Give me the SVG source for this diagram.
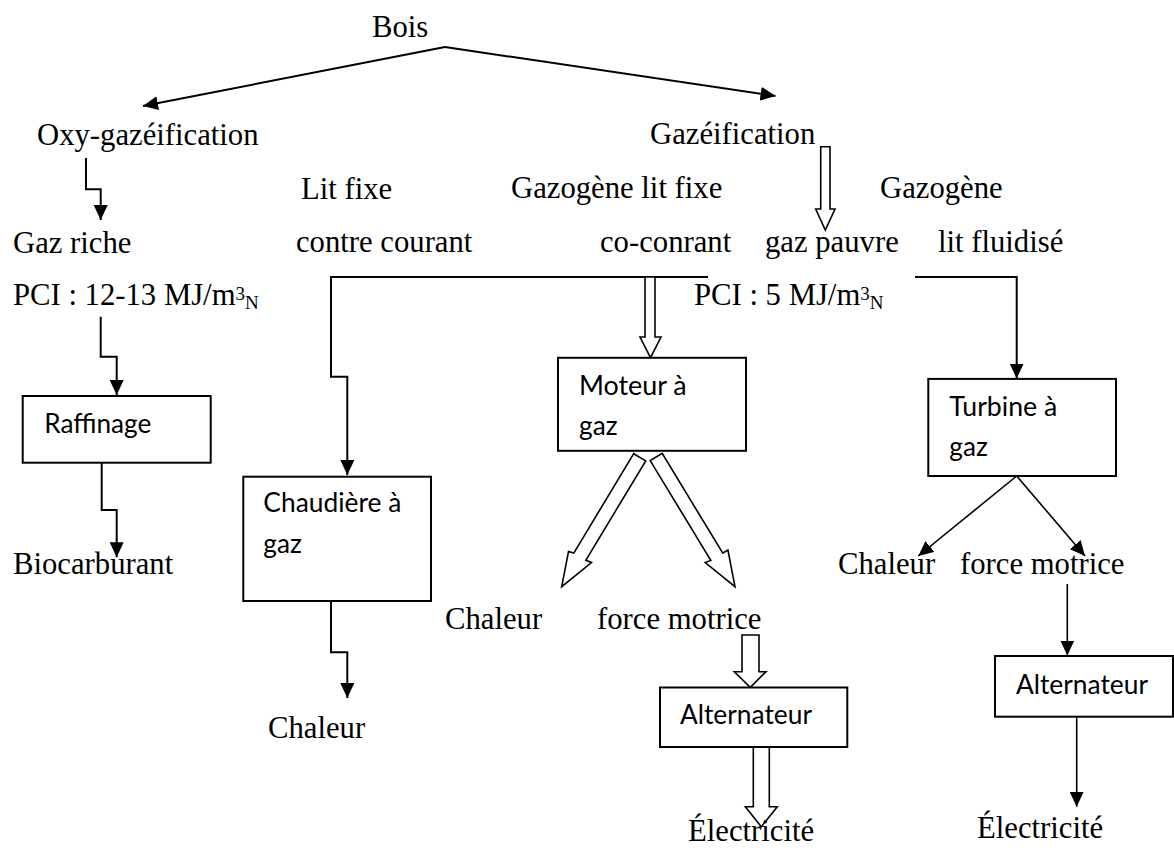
<svg xmlns="http://www.w3.org/2000/svg" width="1174" height="850" viewBox="0 0 1174 850">
<style>
.t{font-family:"Liberation Serif","Times New Roman",serif;font-size:30.7px;fill:#000}
.s{font-family:Lato,"Liberation Sans",sans-serif;font-size:27px;fill:#000}
.box{fill:#fff;stroke:#000;stroke-width:2}
.ln{fill:none;stroke:#000;stroke-width:2}
.thin{fill:none;stroke:#000;stroke-width:1.6}
.hol{fill:#fff;stroke:#000;stroke-width:1.6;stroke-linejoin:miter}
</style>
<defs>
<marker id="ah" markerWidth="16" markerHeight="14" refX="15" refY="7" orient="auto" markerUnits="userSpaceOnUse">
<path d="M0,0 L15,7 L0,14 z" fill="#000"/>
</marker>
</defs>
<rect width="1174" height="850" fill="#fff"/>

<g id="connectors">
<path class="ln" d="M445,47 L143,106" marker-end="url(#ah)"/>
<path class="ln" d="M445,47 L775.5,96" marker-end="url(#ah)"/>
<path class="ln" d="M86,158 V189.3 H100.7 V220" marker-end="url(#ah)"/>
<path class="ln" d="M100.7,316.7 V356.7 H116.7 V395" marker-end="url(#ah)"/>
<path class="ln" d="M101.7,462.7 V510 H116.7 V557.3" marker-end="url(#ah)"/>
<path class="ln" d="M708,277 H331 V376.7 H347.3 V475" marker-end="url(#ah)"/>
<path class="ln" d="M331,601 V652.3 H347.3 V698" marker-end="url(#ah)"/>
<path class="ln" d="M915,277 H1016.7 V378.5" marker-end="url(#ah)"/>
<path class="thin" d="M1016.7,476 L918.3,556" marker-end="url(#ah)"/>
<path class="thin" d="M1016.7,476 L1085,556" marker-end="url(#ah)"/>
<path class="thin" d="M1067.3,584 V655.5" marker-end="url(#ah)"/>
<path class="thin" d="M1076.7,716.7 V806.8" marker-end="url(#ah)"/>
<path class="hol" d="M820.7,146.7 H830 V209 H835 L825.3,230 L815.7,209 H820.7 Z"/>
<path class="hol" d="M645,277 H655 V337 H661 L650.5,357.7 L640,337 H645 Z"/>
<path class="hol" d="M633.7,453.7 L573.8,553.1 L568.5,551.5 L561.7,586.7 L591.5,562.5 L585.8,560.3 L645.7,460.9 Z"/>
<path class="hol" d="M650.2,460.6 L710.8,560.4 L705.2,562.5 L735,586.7 L727.9,550.1 L722.8,553.2 L662.2,453.4 Z"/>
<path class="hol" d="M742,635 H759 V671.7 H766 L750.3,687.3 L734.3,671.7 H742 Z"/>
<path class="hol" d="M753.3,747 H769.3 V806.7 H777.3 L761.3,826.7 L745.3,806.7 H753.3 Z"/>
</g>

<g id="n-bois"><text class="t" x="372" y="37">Bois</text></g>
<g id="n-oxy"><text class="t" x="37" y="145">Oxy-gazéification</text></g>
<g id="n-gazeif"><text class="t" x="650" y="144">Gazéification</text></g>
<g id="n-litfixe"><text class="t" x="301" y="199">Lit fixe</text><text class="t" x="296" y="252">contre courant</text></g>
<g id="n-gazogene-fixe"><text class="t" x="511" y="198">Gazogène lit fixe</text><text class="t" x="600" y="252">co-conrant</text></g>
<g id="n-gazogene-fluid"><text class="t" x="880" y="198">Gazogène</text><text class="t" x="938" y="252">lit fluidisé</text></g>
<g id="n-gazriche"><text class="t" x="13" y="253">Gaz riche</text>
<text class="t" x="13" y="305">PCI : 12-13 MJ/m<tspan font-size="19" dy="-5">3</tspan><tspan font-size="19" dy="9">N</tspan></text></g>
<g id="n-gazpauvre"><text class="t" x="765" y="252">gaz pauvre</text>
<text class="t" x="694" y="305">PCI : 5 MJ/m<tspan font-size="19" dy="-5">3</tspan><tspan font-size="19" dy="9">N</tspan></text></g>

<g id="n-raffinage"><rect class="box" x="22.7" y="396" width="188" height="66.7"/>
<text class="s" x="44.3" y="433.3" textLength="107" lengthAdjust="spacingAndGlyphs">Raffinage</text></g>
<g id="n-biocarburant"><text class="t" x="13" y="574">Biocarburant</text></g>

<g id="n-chaudiere"><rect class="box" x="243.3" y="476.7" width="187.7" height="124.3"/>
<text class="s" x="263.3" y="512.3" textLength="138" lengthAdjust="spacingAndGlyphs">Chaudière à</text>
<text class="s" x="263.3" y="553.3" textLength="38.5" lengthAdjust="spacingAndGlyphs">gaz</text></g>
<g id="n-chaleur1"><text class="t" x="268" y="738">Chaleur</text></g>

<g id="n-moteur"><rect class="box" x="558" y="357.8" width="188" height="93"/>
<text class="s" x="579" y="395" textLength="107.7" lengthAdjust="spacingAndGlyphs">Moteur à</text>
<text class="s" x="579" y="435" textLength="38.5" lengthAdjust="spacingAndGlyphs">gaz</text></g>
<g id="n-chaleur2"><text class="t" x="445" y="629">Chaleur</text></g>
<g id="n-force2"><text class="t" x="597" y="629">force motrice</text></g>
<g id="n-alt2"><rect class="box" x="660" y="687.5" width="187.3" height="59.5"/>
<text class="s" x="680" y="724" textLength="132" lengthAdjust="spacingAndGlyphs">Alternateur</text></g>
<g id="n-elec2"><text class="t" x="688" y="841">Électricité</text></g>

<g id="n-turbine"><rect class="box" x="928.3" y="378.9" width="187.7" height="97.1"/>
<text class="s" x="949.3" y="415.7" textLength="108" lengthAdjust="spacingAndGlyphs">Turbine à</text>
<text class="s" x="949.3" y="456" textLength="38.5" lengthAdjust="spacingAndGlyphs">gaz</text></g>
<g id="n-chaleur3"><text class="t" x="838" y="574">Chaleur</text></g>
<g id="n-force3"><text class="t" x="960" y="574">force motrice</text></g>
<g id="n-alt3"><rect class="box" x="995" y="656" width="178" height="60.7"/>
<text class="s" x="1016" y="694" textLength="132" lengthAdjust="spacingAndGlyphs">Alternateur</text></g>
<g id="n-elec3"><text class="t" x="977" y="838">Électricité</text></g>
</svg>
